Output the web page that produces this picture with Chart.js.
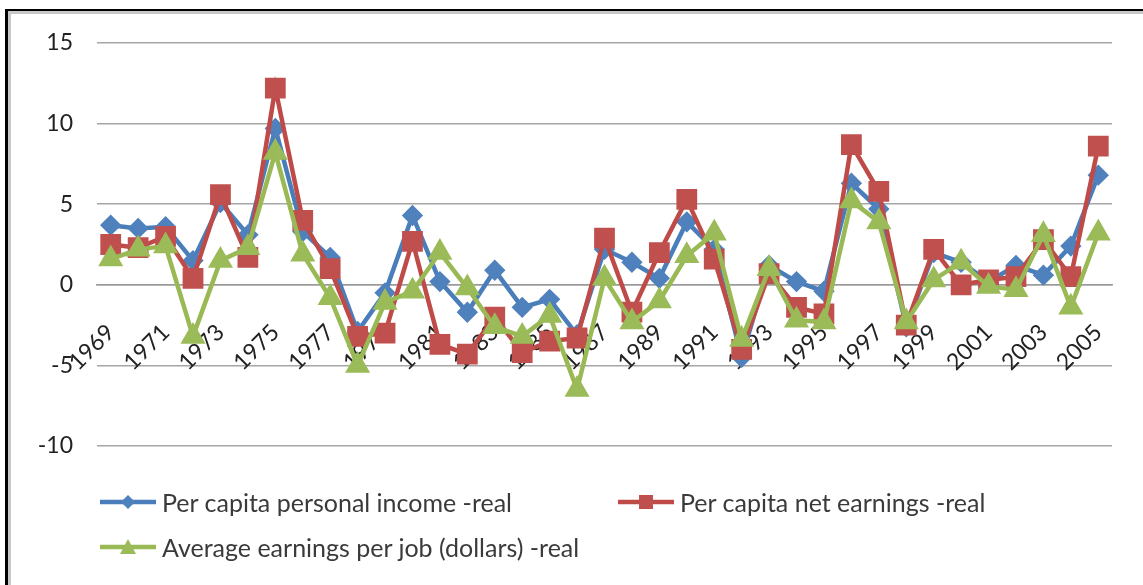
<!DOCTYPE html>
<html>
<head>
<meta charset="utf-8">
<script src="https://cdn.jsdelivr.net/npm/chart.js@4.4.0/dist/chart.umd.min.js"></script>
<style>
  html, body { margin: 0; padding: 0; background: #fff; overflow: hidden; }
  #page { position: relative; width: 1143px; height: 585px; }
  #frame { position: absolute; left: 5px; top: 9px; right: -10px; bottom: -3px; border-left: 3px solid #000; border-top: 2px solid #000; }
  #inner { position: absolute; left: 0; top: 0; right: 0; bottom: 0; border: 3px solid #c8c8c8; }
  #wrap { position: absolute; left: 0; top: 0; width: 1143px; height: 585px; }
  #legend { position: absolute; left: 100px; top: 487px; width: 1000px; font-family: Lato, "Open Sans", sans-serif; font-size: 25px; color: #3a3a3a; }
  #legend .row { display: flex; align-items: center; height: 30px; margin-bottom: 15px; }
  #legend .item { display: flex; align-items: center; }
  #legend .item span { margin-left: 6px; white-space: nowrap; }
</style>
</head>
<body>
<div id="page">
  <div id="frame"><div id="inner"></div></div>
  <div id="wrap"><canvas id="chart"></canvas></div>
  <div id="legend"></div>
</div>
<script>
// years on the category axis
var years = [];
for (var y = 1969; y <= 2005; y++) years.push(String(y));

var incomeReal = [3.7, 3.5, 3.6, 1.5, 5.1, 3.1, 9.7, 3.3, 1.7, -2.9, -0.5, 4.3, 0.2, -1.7, 0.9, -1.4, -0.9, -3.1,
                  2.2, 1.4, 0.4, 3.9, 2.2, -4.5, 1.2, 0.2, -0.4, 6.3, 4.7, -2.6, 2.0, 1.4, 0.2, 1.2, 0.6, 2.4, 6.8];
var netEarningsReal = [2.5, 2.3, 3.0, 0.4, 5.6, 1.7, 12.2, 4.0, 1.0, -3.2, -3.0, 2.7, -3.7, -4.3, -2.0, -4.2, -3.5, -3.3,
                       2.9, -1.7, 2.0, 5.3, 1.6, -4.0, 0.7, -1.4, -1.8, 8.7, 5.8, -2.5, 2.2, 0.0, 0.3, 0.5, 2.8, 0.5, 8.6];
var avgEarningsJob = [1.6, 2.2, 2.4, -3.2, 1.5, 2.3, 8.2, 1.9, -0.8, -5.0, -1.1, -0.4, 2.0, -0.2, -2.6, -3.2, -1.9, -6.5,
                      0.4, -2.3, -1.0, 1.8, 3.2, -3.4, 1.0, -2.2, -2.3, 5.2, 3.9, -2.3, 0.3, 1.4, -0.1, -0.3, 3.1, -1.4, 3.2];

var yTicks = [15, 10, 5, 0, -5, -10];

var font = { family: 'Lato, "Open Sans", sans-serif', size: 23 };

var ctx = document.getElementById('chart').getContext('2d');
var chart = new Chart(ctx, {
    type: 'line',
    data: {
        labels: years,
        datasets: [{
            label: 'Per capita personal income -real',
            data: incomeReal,
            borderColor: '#4A7EBB',
            backgroundColor: '#4F81BD',
            pointBorderColor: '#4F81BD',
            borderWidth: 4.5,
            pointStyle: 'rectRot',
            pointRadius: 7.5,
            order: 3
        }, {
            label: 'Per capita net earnings -real',
            data: netEarningsReal,
            borderColor: '#BE4B48',
            backgroundColor: '#C0504D',
            pointBorderColor: '#C0504D',
            borderWidth: 4.5,
            pointStyle: 'rect',
            pointRadius: 11.5,
            order: 2
        }, {
            label: 'Average earnings per job (dollars) -real',
            data: avgEarningsJob,
            borderColor: '#98B954',
            backgroundColor: '#9BBB59',
            pointBorderColor: '#9BBB59',
            borderWidth: 4.5,
            pointStyle: 'triangle',
            pointRadius: 10,
            order: 1
        }]
    },
    options: {
        responsive: true,
        maintainAspectRatio: false,
        animation: false,
        layout: { padding: { left: 0, top: 43, right: 31, bottom: 139 } },
        plugins: {
            legend: { display: false },
            tooltip: { enabled: false }
        },
        scales: {
            x: {
                position: { y: 0 },
                offset: true,
                grid: { display: false, drawTicks: false },
                border: { display: true, color: '#9a9a9a', width: 1.5 },
                ticks: {
                    autoSkip: false,
                    maxRotation: 45,
                    minRotation: 45,
                    padding: 34,
                    color: '#222',
                    font: font,
                    callback: function (val, i) { return i % 2 === 0 ? years[i] : ''; }
                },
                // labels hang inside the plot, don't let them squeeze the chart area
                afterFit: function (s) { s.paddingLeft = 0; s.paddingRight = 0; }
            },
            y: {
                min: -10,
                max: 15,
                afterBuildTicks: function (s) { s.ticks = yTicks.map(function (v) { return { value: v }; }); },
                grid: { color: '#a6a6a6', lineWidth: 1.5, drawTicks: false },
                border: { display: false },
                ticks: { padding: 24, color: '#222', font: font },
                afterFit: function (s) { s.width = 97; }
            }
        }
    }
});

// html legend built from the datasets, two on the first row like the original
var marker = {
    rectRot: '<rect x="23" y="7" width="10" height="10" transform="rotate(45 28 12)"/>',
    rect: '<rect x="21" y="5" width="14" height="14"/>',
    triangle: '<polygon points="28,4 36,19 20,19"/>'
};
var legendEl = document.getElementById('legend');
var rows = [[0, 1], [2]];
rows.forEach(function (idxs) {
    var row = document.createElement('div');
    row.className = 'row';
    idxs.forEach(function (i, k) {
        var ds = chart.data.datasets[i];
        var item = document.createElement('div');
        item.className = 'item';
        if (k === 0 && idxs.length > 1) item.style.width = '518px';
        item.innerHTML = '<svg width="56" height="24"><line x1="0" y1="12" x2="56" y2="12" stroke="' + ds.borderColor +
            '" stroke-width="4.5"/><g fill="' + ds.backgroundColor + '">' + marker[ds.pointStyle] + '</g></svg><span>' + ds.label + '</span>';
        row.appendChild(item);
    });
    legendEl.appendChild(row);
});
</script>
</body>
</html>
